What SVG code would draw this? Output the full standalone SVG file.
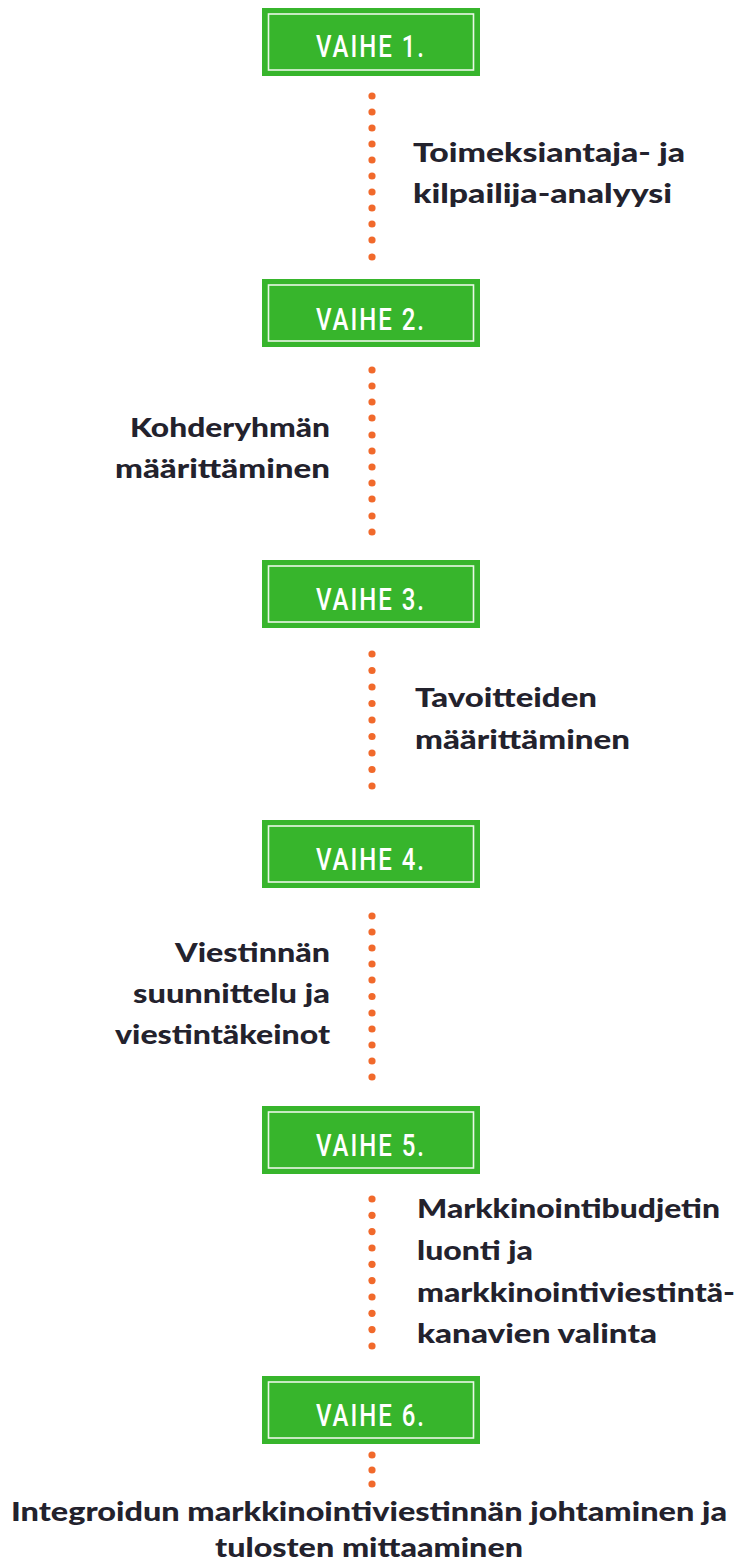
<svg xmlns="http://www.w3.org/2000/svg" width="738" height="1564" viewBox="0 0 738 1564">
<style>
.box{fill:#37b52c}
.inner{fill:none;stroke:#e9f7e6;stroke-width:1.6}
.vt{font-family:Roboto,"Liberation Sans",sans-serif;font-weight:500;font-size:32px;fill:#ffffff;text-anchor:middle}
.dot{fill:#f1692b}
.t{font-family:Lato,"Liberation Sans",sans-serif;font-weight:900;font-size:27px;fill:#23222d}
.r{text-anchor:end}
.c{text-anchor:middle}
</style>
<defs>
<g id="boxshape">
<rect class="box" x="262" y="0" width="218" height="68"/>
<rect class="inner" x="268.5" y="6" width="205" height="56"/>
</g>
<circle id="d" class="dot" cx="372" cy="0" r="3.6"/>
</defs>
<g id="connectors">
<g id="c1">
<use href="#d" y="96"/><use href="#d" y="112"/><use href="#d" y="128"/><use href="#d" y="144"/><use href="#d" y="160"/><use href="#d" y="176"/><use href="#d" y="192"/><use href="#d" y="208"/><use href="#d" y="224"/><use href="#d" y="240"/><use href="#d" y="257"/>
</g>
<g id="c2">
<use href="#d" y="370"/><use href="#d" y="386"/><use href="#d" y="402"/><use href="#d" y="418"/><use href="#d" y="435"/><use href="#d" y="451"/><use href="#d" y="467"/><use href="#d" y="483"/><use href="#d" y="499"/><use href="#d" y="516"/><use href="#d" y="532"/>
</g>
<g id="c3">
<use href="#d" y="654"/><use href="#d" y="670.5"/><use href="#d" y="687"/><use href="#d" y="703.5"/><use href="#d" y="720"/><use href="#d" y="736.5"/><use href="#d" y="753"/><use href="#d" y="769.5"/><use href="#d" y="786"/>
</g>
<g id="c4">
<use href="#d" y="916"/><use href="#d" y="932"/><use href="#d" y="948"/><use href="#d" y="964"/><use href="#d" y="980"/><use href="#d" y="996.5"/><use href="#d" y="1013"/><use href="#d" y="1029"/><use href="#d" y="1045"/><use href="#d" y="1061"/><use href="#d" y="1077"/>
</g>
<g id="c5">
<use href="#d" y="1199"/><use href="#d" y="1215.3"/><use href="#d" y="1231.6"/><use href="#d" y="1248"/><use href="#d" y="1264.3"/><use href="#d" y="1280.6"/><use href="#d" y="1297"/><use href="#d" y="1313.3"/><use href="#d" y="1329.6"/><use href="#d" y="1346"/>
</g>
<g id="c6">
<use href="#d" y="1455"/><use href="#d" y="1470"/><use href="#d" y="1484"/>
</g>
</g>
<g id="vaihe1"><use href="#boxshape" y="8"/><text class="vt" transform="translate(370,57) scale(0.75,1)" textLength="144" lengthAdjust="spacing">VAIHE 1.</text></g>
<g id="vaihe2"><use href="#boxshape" y="279"/><text class="vt" transform="translate(370,330) scale(0.75,1)" textLength="144" lengthAdjust="spacing">VAIHE 2.</text></g>
<g id="vaihe3"><use href="#boxshape" y="560"/><text class="vt" transform="translate(370,610) scale(0.75,1)" textLength="144" lengthAdjust="spacing">VAIHE 3.</text></g>
<g id="vaihe4"><use href="#boxshape" y="820"/><text class="vt" transform="translate(370,870) scale(0.75,1)" textLength="144" lengthAdjust="spacing">VAIHE 4.</text></g>
<g id="vaihe5"><use href="#boxshape" y="1106"/><text class="vt" transform="translate(370,1156) scale(0.75,1)" textLength="144" lengthAdjust="spacing">VAIHE 5.</text></g>
<g id="vaihe6"><use href="#boxshape" y="1376"/><text class="vt" transform="translate(370,1426) scale(0.75,1)" textLength="144" lengthAdjust="spacing">VAIHE 6.</text></g>
<g id="label1">
<text class="t" x="413" y="162" textLength="272" lengthAdjust="spacingAndGlyphs">Toimeksiantaja- ja</text>
<text class="t" x="413" y="203" textLength="259" lengthAdjust="spacingAndGlyphs">kilpailija-analyysi</text>
</g>
<g id="label2">
<text class="t r" x="330" y="437" textLength="200" lengthAdjust="spacingAndGlyphs">Kohderyhmän</text>
<text class="t r" x="330" y="478" textLength="215" lengthAdjust="spacingAndGlyphs">määrittäminen</text>
</g>
<g id="label3">
<text class="t" x="415" y="707" textLength="182" lengthAdjust="spacingAndGlyphs">Tavoitteiden</text>
<text class="t" x="415" y="749" textLength="215" lengthAdjust="spacingAndGlyphs">määrittäminen</text>
</g>
<g id="label4">
<text class="t r" x="330" y="962" textLength="155" lengthAdjust="spacingAndGlyphs">Viestinnän</text>
<text class="t r" x="330" y="1003" textLength="197" lengthAdjust="spacingAndGlyphs">suunnittelu ja</text>
<text class="t r" x="330" y="1044" textLength="215" lengthAdjust="spacingAndGlyphs">viestintäkeinot</text>
</g>
<g id="label5">
<text class="t" x="417" y="1218" textLength="303" lengthAdjust="spacingAndGlyphs">Markkinointibudjetin</text>
<text class="t" x="417" y="1260" textLength="116" lengthAdjust="spacingAndGlyphs">luonti ja</text>
<text class="t" x="417" y="1302" textLength="318" lengthAdjust="spacingAndGlyphs">markkinointiviestintä-</text>
<text class="t" x="417" y="1343" textLength="240" lengthAdjust="spacingAndGlyphs">kanavien valinta</text>
</g>
<g id="label6">
<text class="t c" x="369" y="1521" textLength="716" lengthAdjust="spacingAndGlyphs">Integroidun markkinointiviestinnän johtaminen ja</text>
<text class="t c" x="369" y="1557" textLength="308" lengthAdjust="spacingAndGlyphs">tulosten mittaaminen</text>
</g>
</svg>
